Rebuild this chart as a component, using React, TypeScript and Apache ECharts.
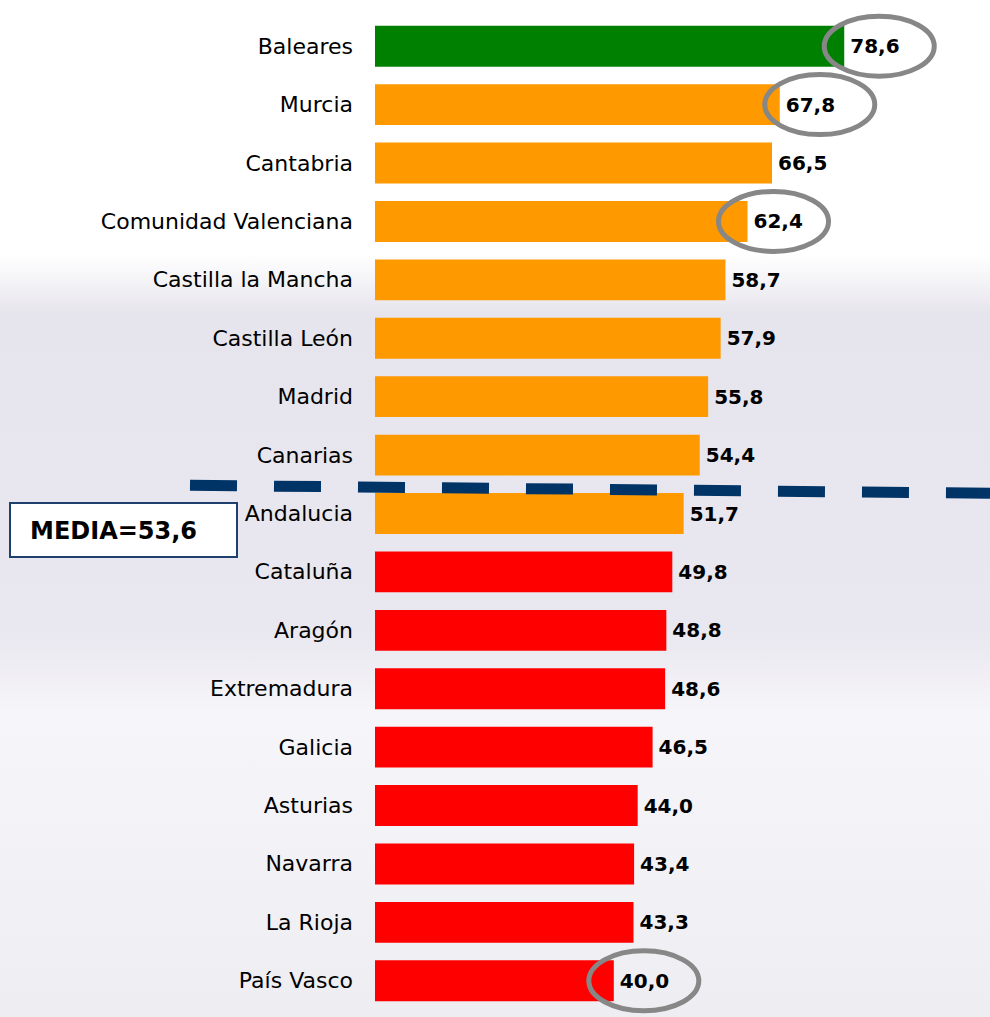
import React, { useEffect, useRef } from "react";
import * as echarts from "echarts";

const categories = [
  "Baleares",
  "Murcia",
  "Cantabria",
  "Comunidad Valenciana",
  "Castilla la Mancha",
  "Castilla León",
  "Madrid",
  "Canarias",
  "Andalucia",
  "Cataluña",
  "Aragón",
  "Extremadura",
  "Galicia",
  "Asturias",
  "Navarra",
  "La Rioja",
  "País Vasco",
];

const values = [78.6, 67.8, 66.5, 62.4, 58.7, 57.9, 55.8, 54.4, 51.7, 49.8, 48.8, 48.6, 46.5, 44.0, 43.4, 43.3, 40.0];

// colour group of each bar: g = green, o = orange, r = red
const groups = ["g", "o", "o", "o", "o", "o", "o", "o", "o", "r", "r", "r", "r", "r", "r", "r", "r"];

const MEDIA = 53.6;

const highlighted = ["Baleares", "Murcia", "Comunidad Valenciana", "País Vasco"];
const highlightOffsets = [35, 40, 26, 30];

const COLORS: Record<string, string> = { g: "#008000", o: "#FF9900", r: "#FF0000" };
const FONT = "'DejaVu Sans', Verdana, sans-serif";

const fmt = (v: number) => v.toFixed(1).replace(".", ",");

export default function App() {
  const ref = useRef<HTMLDivElement>(null);

  useEffect(() => {
    if (!ref.current) return;
    const chart = echarts.init(ref.current, undefined, { renderer: "svg" });

    chart.setOption({
      animation: false,
      backgroundColor: {
        type: "linear",
        x: 0,
        y: 0,
        x2: 0,
        y2: 1,
        colorStops: [
          { offset: 0, color: "#ffffff" },
          { offset: 0.25, color: "#ffffff" },
          { offset: 0.31, color: "#e6e4ec" },
          { offset: 0.62, color: "#e9e7ef" },
          { offset: 0.7, color: "#f6f5f9" },
          { offset: 1, color: "#eeedf2" },
        ],
      },
      grid: { left: 375, right: 18, top: 17, bottom: 7, containLabel: false },
      xAxis: {
        type: "value",
        min: 0,
        max: 100,
        show: false,
        splitLine: { show: false },
      },
      yAxis: {
        type: "category",
        data: categories,
        inverse: true,
        axisLine: { show: false },
        axisTick: { show: false },
        axisLabel: {
          color: "#000",
          fontSize: 22,
          fontFamily: FONT,
          margin: 22,
        },
      },
      series: [
        {
          type: "bar",
          barCategoryGap: "30%",
          data: values.map((v, i) => ({
            value: v,
            itemStyle: { color: COLORS[groups[i]] },
          })),
          label: {
            show: true,
            position: "right",
            distance: 6,
            color: "#000",
            fontWeight: "bold",
            fontSize: 20,
            fontFamily: FONT,
            formatter: (p: any) => fmt(p.value),
          },
        },
      ],
    });

    const yCanarias = chart.convertToPixel({ gridIndex: 0 }, [0, "Canarias"])[1];
    const yAndalucia = chart.convertToPixel({ gridIndex: 0 }, [0, "Andalucia"])[1];
    const midY = (yCanarias + yAndalucia) / 2;

    const ellipses = highlighted.map((name, i) => {
      const v = values[categories.indexOf(name)];
      const [px, py] = chart.convertToPixel({ gridIndex: 0 }, [v, name]);
      return {
        type: "ellipse",
        z: 100,
        shape: { cx: px + highlightOffsets[i], cy: py, rx: 55, ry: 30 },
        style: { fill: "none", stroke: "#878787", lineWidth: 5 },
      };
    });

    chart.setOption({
      graphic: [
        {
          type: "line",
          z: 90,
          shape: { x1: 190, y1: midY + 1, x2: 990, y2: midY + 9 },
          style: { stroke: "#003366", lineWidth: 11, lineDash: [47, 37], lineCap: "butt" },
        },
        {
          type: "rect",
          z: 95,
          shape: { x: 10, y: 503, width: 227, height: 54 },
          style: { fill: "#ffffff", stroke: "#1f3f6f", lineWidth: 2 },
        },
        {
          type: "text",
          z: 96,
          x: 30,
          y: 531,
          style: {
            text: "MEDIA=" + fmt(MEDIA),
            fill: "#000",
            font: `bold 24px ${FONT}`,
            textAlign: "left",
            textVerticalAlign: "middle",
          },
        },
        ...ellipses,
      ],
    });

    return () => chart.dispose();
  }, []);

  return (
    <div
      ref={ref}
      style={{ position: "absolute", left: 0, top: 0, width: 990, height: 1017 }}
    />
  );
}
